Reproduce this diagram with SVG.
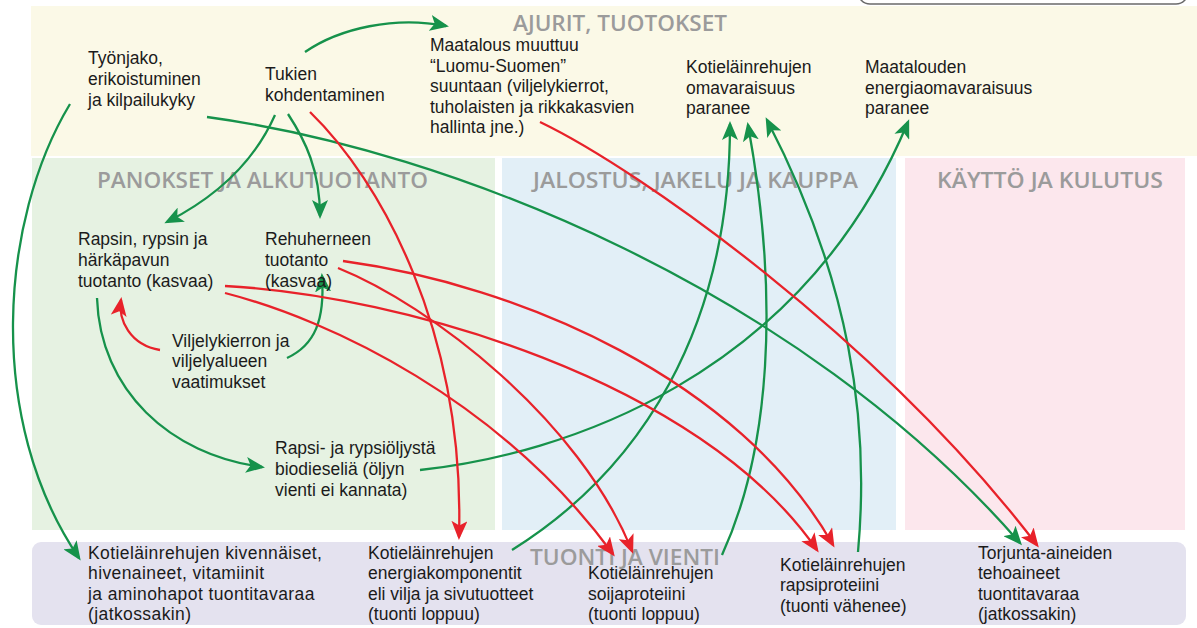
<svg xmlns="http://www.w3.org/2000/svg" width="1197" height="628" viewBox="0 0 1197 628">
  <style>
    .t { font-family: "Liberation Sans", Arial, sans-serif; font-size: 17.5px; fill: #1b1b1b; }
    .wide { letter-spacing: 0.4px; }
    .h { font-family: "Open Sans", "Liberation Sans", sans-serif; font-size: 21px; font-weight: 600; fill: #9b9b9b; }
    .g { fill: none; stroke: #16924b; stroke-width: 2.3; }
    .r { fill: none; stroke: #e8222a; stroke-width: 2.3; }
  </style>
  <defs>
    <marker id="ag" markerUnits="userSpaceOnUse" markerWidth="19" markerHeight="16" viewBox="0 0 19 16" refX="16" refY="8" orient="auto">
      <path d="M0,0 L19,8 L0,16 L4.5,8 Z" fill="#16924b"/>
    </marker>
    <marker id="ar" markerUnits="userSpaceOnUse" markerWidth="19" markerHeight="16" viewBox="0 0 19 16" refX="16" refY="8" orient="auto">
      <path d="M0,0 L19,8 L0,16 L4.5,8 Z" fill="#e8222a"/>
    </marker>
  </defs>

  <rect width="1197" height="628" fill="#ffffff"/>

  <!-- background bands and section headings -->
  <g id="bands">
    <rect x="31" y="6" width="1166" height="150" fill="#fbf9e7"/>
    <rect x="858" y="-40" width="330" height="44" rx="12" fill="#ffffff" stroke="#6a6a6a" stroke-width="1.5"/>
    <rect x="32" y="158" width="463" height="372" fill="#e6f2e2"/>
    <rect x="502" y="158" width="394" height="372" fill="#e2eff7"/>
    <rect x="905" y="158" width="280" height="372" fill="#fce7ed"/>
    <rect x="32" y="542" width="1154" height="83" rx="9" fill="#e4e2ef"/>
    <text class="h" x="513" y="31" textLength="214" lengthAdjust="spacingAndGlyphs">AJURIT, TUOTOKSET</text>
    <text class="h" x="97" y="188" textLength="331" lengthAdjust="spacingAndGlyphs">PANOKSET JA ALKUTUOTANTO</text>
    <text class="h" x="533" y="188" textLength="325" lengthAdjust="spacingAndGlyphs">JALOSTUS, JAKELU JA KAUPPA</text>
    <text class="h" x="937" y="188" textLength="226" lengthAdjust="spacingAndGlyphs">KÄYTTÖ JA KULUTUS</text>
    <text class="h" x="530" y="565" textLength="190" lengthAdjust="spacingAndGlyphs">TUONTI JA VIENTI</text>
  </g>

  <!-- connectors: green = strengthens, red = weakens -->
  <g id="connectors">
    <path class="g" marker-end="url(#ag)" d="M305,52 C340,28 395,16 446,26"/>
    <path class="g" marker-end="url(#ag)" d="M70,104 C0,220 -15,420 79,558"/>
    <path class="g" marker-end="url(#ag)" d="M275,115 C255,160 220,195 167,222"/>
    <path class="g" marker-end="url(#ag)" d="M288,114 C305,140 320,170 320,216"/>
    <path class="g" marker-end="url(#ag)" d="M207,117 C450,150 800,290 1020,543"/>
    <path class="g" marker-end="url(#ag)" d="M287,358 C315,345 325,320 322,276"/>
    <path class="g" marker-end="url(#ag)" d="M97,298 C100,390 170,455 262,467"/>
    <path class="g" marker-end="url(#ag)" d="M420,470 C560,455 800,380 908,122"/>
    <path class="g" marker-end="url(#ag)" d="M512,550 C640,470 730,330 730,124"/>
    <path class="g" marker-end="url(#ag)" d="M722,555 C770,450 780,300 748,125"/>
    <path class="g" marker-end="url(#ag)" d="M858,552 C870,420 850,280 767,120"/>

    <path class="r" marker-end="url(#ar)" d="M160,350 C130,345 118,320 121,300"/>
    <path class="r" marker-end="url(#ar)" d="M310,112 C380,180 465,330 459,537"/>
    <path class="r" marker-end="url(#ar)" d="M540,122 C640,170 880,340 1037,545"/>
    <path class="r" marker-end="url(#ar)" d="M225,286 C400,295 700,380 817,550"/>
    <path class="r" marker-end="url(#ar)" d="M225,293 C330,320 500,400 613,554"/>
    <path class="r" marker-end="url(#ar)" d="M343,261 C520,285 740,380 833,545"/>
    <path class="r" marker-end="url(#ar)" d="M338,268 C430,305 580,420 632,551"/>
  </g>

  <!-- nodes -->
  <g id="n-tyonjako"><text class="t" x="88" y="64">Työnjako,<tspan x="88" dy="21">erikoistuminen</tspan><tspan x="88" dy="21">ja kilpailukyky</tspan></text></g>
  <g id="n-tukien"><text class="t" x="265" y="80">Tukien<tspan x="265" dy="21">kohdentaminen</tspan></text></g>
  <g id="n-luomu"><text class="t" x="430" y="51">Maatalous muuttuu<tspan x="430" dy="20.5">“Luomu-Suomen”</tspan><tspan x="430" dy="20.5">suuntaan (viljelykierrot,</tspan><tspan x="430" dy="20.5">tuholaisten ja rikkakasvien</tspan><tspan x="430" dy="20.5">hallinta jne.)</tspan></text></g>
  <g id="n-omavaraisuus"><text class="t" x="686" y="73">Kotieläinrehujen<tspan x="686" dy="20.5">omavaraisuus</tspan><tspan x="686" dy="20.5">paranee</tspan></text></g>
  <g id="n-energia"><text class="t" x="865" y="73">Maatalouden<tspan x="865" dy="20.5">energiaomavaraisuus</tspan><tspan x="865" dy="20.5">paranee</tspan></text></g>
  <g id="n-rapsin"><text class="t" x="78" y="245">Rapsin, rypsin ja<tspan x="78" dy="21">härkäpavun</tspan><tspan x="78" dy="21">tuotanto (kasvaa)</tspan></text></g>
  <g id="n-rehuherne"><text class="t" x="265" y="245">Rehuherneen<tspan x="265" dy="21">tuotanto</tspan><tspan x="265" dy="21">(kasvaa)</tspan></text></g>
  <g id="n-viljelykierto"><text class="t" x="172" y="347">Viljelykierron ja<tspan x="172" dy="20.3">viljelyalueen</tspan><tspan x="172" dy="20.3">vaatimukset</tspan></text></g>
  <g id="n-biodiesel"><text class="t" x="275" y="454">Rapsi- ja rypsiöljystä<tspan x="275" dy="21">biodieseliä (öljyn</tspan><tspan x="275" dy="21">vienti ei kannata)</tspan></text></g>
  <g id="n-kivennaiset"><text class="t wide" x="88" y="559">Kotieläinrehujen kivennäiset,<tspan x="88" dy="20.3">hivenaineet, vitamiinit</tspan><tspan x="88" dy="20.3">ja aminohapot tuontitavaraa</tspan><tspan x="88" dy="20.3">(jatkossakin)</tspan></text></g>
  <g id="n-energiakomponentit"><text class="t" x="368" y="559">Kotieläinrehujen<tspan x="368" dy="20.3">energiakomponentit</tspan><tspan x="368" dy="20.3">eli vilja ja sivutuotteet</tspan><tspan x="368" dy="20.3">(tuonti loppuu)</tspan></text></g>
  <g id="n-soija"><text class="t" x="588" y="579">Kotieläinrehujen<tspan x="588" dy="20.5">soijaproteiini</tspan><tspan x="588" dy="20.5">(tuonti loppuu)</tspan></text></g>
  <g id="n-rapsiproteiini"><text class="t" x="780" y="571">Kotieläinrehujen<tspan x="780" dy="20.3">rapsiproteiini</tspan><tspan x="780" dy="20.3">(tuonti vähenee)</tspan></text></g>
  <g id="n-torjunta"><text class="t" x="978" y="559">Torjunta-aineiden<tspan x="978" dy="20.3">tehoaineet</tspan><tspan x="978" dy="20.3">tuontitavaraa</tspan><tspan x="978" dy="20.3">(jatkossakin)</tspan></text></g>
</svg>
